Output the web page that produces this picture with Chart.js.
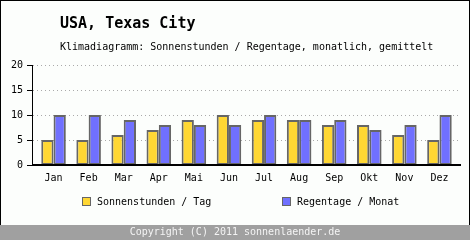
<!DOCTYPE html>
<html>
<head>
<meta charset="utf-8">
<script src="https://cdn.jsdelivr.net/npm/chart.js@4/dist/chart.umd.min.js"></script>
<style>
html,body{margin:0;padding:0;background:#fcfefc;}
#wrap{position:relative;width:470px;height:240px;}
canvas{display:block;}
</style>
</head>
<body>
<div id="wrap"><canvas id="c" width="470" height="240"></canvas></div>
<script>
const months = ["Jan","Feb","Mar","Apr","Mai","Jun","Jul","Aug","Sep","Okt","Nov","Dez"];
const sunHours = [5,5,6,7,9,10,9,9,8,8,6,5];
const rainDays = [10,10,9,8,8,8,10,9,9,7,8,10];
const yTicks = [0,5,10,15,20];
const titleText = "USA, Texas City";
const subtitleText = "Klimadiagramm: Sonnenstunden / Regentage, monatlich, gemittelt";
const footerText = "Copyright (C) 2011 sonnenlaender.de";
const sunLabel = "Sonnenstunden / Tag";
const rainLabel = "Regentage / Monat";

const MONO = "'DejaVu Sans Mono', 'Liberation Mono', monospace";

const decor = {
  id: 'decor',
  beforeDraw(chart) {
    const ctx = chart.ctx;
    ctx.save();
    ctx.fillStyle = '#fcfefc';
    ctx.fillRect(0, 0, 470, 240);
    ctx.strokeStyle = '#000';
    ctx.lineWidth = 1;
    ctx.strokeRect(0.5, 0.5, 469, 239);
    ctx.fillStyle = '#000';
    ctx.textBaseline = 'alphabetic';
    ctx.textAlign = 'left';
    ctx.font = 'bold 15px ' + MONO;
    ctx.fillText(titleText, 60, 27.5);
    ctx.font = '10px ' + MONO;
    ctx.fillText(subtitleText, 60, 50);
    ctx.restore();
  },
  beforeDatasetsDraw(chart) {
    const ctx = chart.ctx;
    const a = chart.chartArea;
    const y = chart.scales.y;
    ctx.save();
    ctx.strokeStyle = '#aaaaaa';
    ctx.lineWidth = 1;
    ctx.setLineDash([1, 3]);
    yTicks.forEach(v => {
      if (v === 0) return;
      const py = Math.round(y.getPixelForValue(v)) + 0.5;
      ctx.beginPath();
      ctx.moveTo(a.left - 3, py);
      ctx.lineTo(a.right + 4, py);
      ctx.stroke();
    });
    ctx.restore();
  },
  afterDatasetsDraw(chart) {
    const ctx = chart.ctx;
    const a = chart.chartArea;
    const y = chart.scales.y;
    ctx.save();
    ctx.strokeStyle = '#000';
    ctx.lineWidth = 1;
    ctx.beginPath();
    ctx.moveTo(32.5, y.getPixelForValue(20));
    ctx.lineTo(32.5, y.getPixelForValue(0));
    ctx.stroke();
    yTicks.forEach(v => {
      const py = Math.round(y.getPixelForValue(v)) + 0.5;
      ctx.beginPath();
      ctx.moveTo(27, py);
      ctx.lineTo(33, py);
      ctx.stroke();
    });
    ctx.lineWidth = 2;
    ctx.beginPath();
    ctx.moveTo(32, a.bottom);
    ctx.lineTo(a.right + 4, a.bottom);
    ctx.stroke();

    // legend
    const ds = chart.data.datasets;
    const items = [[82, ds[0]], [282, ds[1]]];
    ctx.font = '10px ' + MONO;
    ctx.textBaseline = 'middle';
    ctx.textAlign = 'left';
    items.forEach(([x, d]) => {
      ctx.fillStyle = d.backgroundColor;
      ctx.fillRect(x, 197, 9, 9);
      ctx.strokeStyle = '#666';
      ctx.lineWidth = 1;
      ctx.strokeRect(x + 0.5, 197.5, 8, 8);
      ctx.fillStyle = '#000';
      ctx.fillText(d.label, x + 15, 202);
    });

    // footer
    ctx.fillStyle = '#a0a0a0';
    ctx.fillRect(0, 225, 470, 15);
    ctx.fillStyle = '#f4f4f4';
    ctx.textAlign = 'center';
    ctx.fillText(footerText, 235, 232.5);
    ctx.restore();
  }
};

new Chart(document.getElementById('c'), {
  type: 'bar',
  data: {
    labels: months,
    datasets: [
      { label: sunLabel, data: sunHours, backgroundColor: '#ffd733', borderColor: '#666666', borderWidth: 2, borderSkipped: false },
      { label: rainLabel, data: rainDays, backgroundColor: '#7070ff', borderColor: '#666666', borderWidth: 2, borderSkipped: false }
    ]
  },
  options: {
    responsive: false,
    animation: false,
    devicePixelRatio: 1,
    layout: { padding: { top: 65, right: 13, left: 0, bottom: 0 } },
    datasets: { bar: { categoryPercentage: 0.7, barPercentage: 1.0 } },
    plugins: { legend: { display: false }, title: { display: false }, tooltip: { enabled: false } },
    scales: {
      x: {
        grid: { display: false, drawTicks: false },
        border: { display: false },
        ticks: { color: '#000', font: { family: MONO, size: 10 }, padding: 7, maxRotation: 0 },
        afterFit(s) { s.height = 75; }
      },
      y: {
        min: 0, max: 20,
        afterBuildTicks(s) { s.ticks = yTicks.map(v => ({ value: v })); },
        grid: { display: false, drawTicks: false },
        border: { display: false },
        ticks: { color: '#000', font: { family: MONO, size: 10 }, padding: 13 },
        afterFit(s) { s.width = 36; }
      }
    }
  },
  plugins: [decor]
});
</script>
</body>
</html>
